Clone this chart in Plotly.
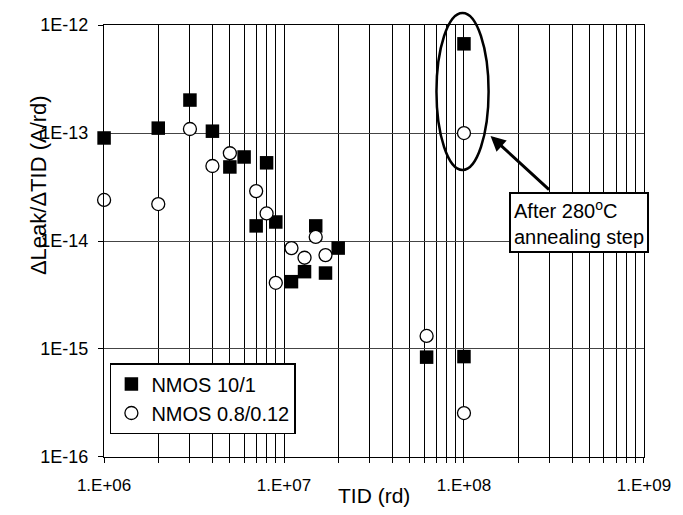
import plotly.graph_objects as go

# NMOS 10/1 (filled squares)
sq_x = [1e6, 2e6, 3e6, 4e6, 5e6, 6e6, 8e6, 7e6, 9e6, 1.1e7, 1.3e7, 1.5e7, 1.7e7, 2.0e7, 6.2e7, 1e8, 1e8]
sq_y = [9.0e-14, 1.11e-13, 2.02e-13, 1.04e-13, 4.85e-14, 6.0e-14, 5.3e-14, 1.38e-14, 1.5e-14,
        4.2e-15, 5.2e-15, 1.38e-14, 5.05e-15, 8.6e-15, 8.4e-16, 8.5e-16, 6.7e-13]

# NMOS 0.8/0.12 (open circles)
ci_x = [1e6, 2e6, 3e6, 4e6, 5e6, 7e6, 8e6, 9e6, 1.1e7, 1.3e7, 1.5e7, 1.7e7, 6.2e7, 1e8, 1e8]
ci_y = [2.4e-14, 2.2e-14, 1.09e-13, 4.95e-14, 6.5e-14, 2.9e-14, 1.8e-14, 4.1e-15, 8.6e-15,
        7.0e-15, 1.09e-14, 7.4e-15, 1.32e-15, 2.55e-16, 1.0e-13]

x_tickvals = [1e6, 1e7, 1e8, 1e9]
x_ticktext = ["1.E+06", "1.E+07", "1.E+08", "1.E+09"]
y_tickvals = [1e-16, 1e-15, 1e-14, 1e-13, 1e-12]
y_ticktext = ["1E-16", "1E-15", "1E-14", "1E-13", "1E-12"]

FONT = "Liberation Sans, Arial, sans-serif"

fig = go.Figure()
fig.add_trace(go.Scatter(
    x=sq_x, y=sq_y, mode="markers", name="NMOS 10/1", cliponaxis=False,
    marker=dict(symbol="square", size=13.5, color="black", line=dict(width=0)),
))
fig.add_trace(go.Scatter(
    x=ci_x, y=ci_y, mode="markers", name="NMOS 0.8/0.12", cliponaxis=False,
    marker=dict(symbol="circle", size=13, color="white", line=dict(width=1.3, color="black")),
))

L, R, T, B = 104, 30, 25, 58
W, H = 683, 515
pw, ph = W - L - R, H - T - B

def px(xp):
    return (xp - L) / pw

def py(yp):
    return (H - B - yp) / ph

fig.update_layout(
    width=W, height=H,
    margin=dict(l=L, r=R, t=T, b=B, pad=0),
    paper_bgcolor="white", plot_bgcolor="white",
    font=dict(family=FONT, size=17, color="black"),
    showlegend=True,
    legend=dict(
        x=px(110), y=py(363), xanchor="left", yanchor="top",
        bgcolor="white", bordercolor="black", borderwidth=1.5,
        font=dict(size=20, family=FONT), tracegroupgap=0, itemwidth=30,
    ),
    xaxis=dict(
        type="log", range=[5.9995, 9.0005],
        tickvals=x_tickvals, ticktext=x_ticktext,
        ticks="outside", ticklen=5, tickcolor="black",
        showgrid=True, gridcolor="black", gridwidth=1,
        showline=True, linecolor="black", linewidth=1, mirror=True,
        zeroline=False, ticklabelstandoff=8,
        minor=dict(dtick="D1", showgrid=True, gridcolor="black", gridwidth=1,
                   ticks="outside", ticklen=5, tickcolor="black"),
        tickfont=dict(size=17),
    ),
    yaxis=dict(
        type="log", range=[-16.0005, -11.9995],
        tickvals=y_tickvals, ticktext=y_ticktext,
        ticks="outside", ticklen=5, tickcolor="black",
        showgrid=True, gridcolor="#444", gridwidth=1,
        showline=True, linecolor="black", linewidth=1, mirror=True,
        zeroline=False, ticklabelstandoff=6,
        tickfont=dict(size=18),
    ),
)

# Axis titles
fig.add_annotation(text="TID (rd)", xref="paper", yref="paper", x=px(379), y=py(495),
                   xanchor="center", yanchor="middle", showarrow=False,
                   font=dict(size=21, family=FONT))
fig.add_annotation(text="ΔLeak/ΔTID (A/rd)", xref="paper", yref="paper", x=px(37), y=py(185),
                   xanchor="center", yanchor="middle", showarrow=False, textangle=-90,
                   font=dict(size=22, family=FONT))

# Ellipse around annealed points
fig.add_shape(type="circle", xref="paper", yref="paper",
              x0=px(442), x1=px(495), y0=py(170), y1=py(13),
              line=dict(color="black", width=2.5), layer="above")

# Arrow
fig.add_annotation(text="", xref="paper", yref="paper", x=px(497), y=py(136),
                   ax=60, ay=55, showarrow=True, arrowhead=2, arrowsize=1,
                   arrowwidth=3, arrowcolor="black")

# Text box
fig.add_annotation(text="After 280<sup>o</sup>C<br>annealing step", xref="paper", yref="paper",
                   x=px(516), y=py(192), xanchor="left", yanchor="top", align="left",
                   showarrow=False, bgcolor="white", bordercolor="black", borderwidth=2,
                   borderpad=3, font=dict(size=20, family=FONT))

fig.write_html("out.html")
